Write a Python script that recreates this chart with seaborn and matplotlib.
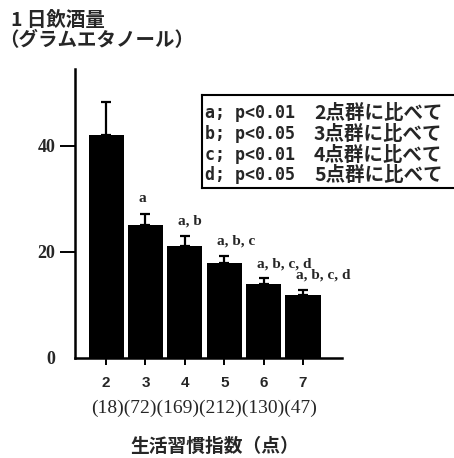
import numpy as np
import matplotlib
matplotlib.use("Agg")
import matplotlib.pyplot as plt
import seaborn as sns
from matplotlib.lines import Line2D

# Daily alcohol intake by lifestyle index score
scores = ["2", "3", "4", "5", "6", "7"]
counts = [18, 72, 169, 212, 130, 47]
intake = [42.0, 25.0, 21.1, 17.9, 13.9, 11.9]
sem = [6.3, 2.2, 2.0, 1.3, 1.1, 1.0]
sig_marks = ["", "a", "a, b", "a, b, c", "a, b, c, d", "a, b, c, d"]
legend_left = ["a; p<0.01", "b; p<0.05", "c; p<0.01", "d; p<0.05"]
legend_right = ["2点群に比べて", "3点群に比べて", "4点群に比べて", "5点群に比べて"]
yticks = [0, 20, 40]

sns.set_theme(style="white")
plt.rcParams["font.family"] = ["Noto Sans CJK JP", "DejaVu Sans"]

W, H = 454, 458
fig = plt.figure(figsize=(W / 100, H / 100), dpi=100)
ax = fig.add_axes([75 / W, 1 - 358 / H, (342 - 75) / W, (358 - 69) / H])


def px(x, y):
    return x / W, 1 - y / H


sns.barplot(x=scores, y=intake, color="black", saturation=1, width=0.89,
            edgecolor="black", linewidth=0, ax=ax, errorbar=None)

xpos = np.arange(len(scores))
ax.errorbar(xpos, intake, yerr=[np.zeros(len(sem)), sem], fmt="none",
            ecolor="black", elinewidth=1.6, capsize=3.5, capthick=1.6, zorder=1)

ax.set_xlim(-0.79, 5.99)
ax.set_ylim(0, 54.5)

for s in ["top", "right"]:
    ax.spines[s].set_visible(False)
for s in ["left", "bottom"]:
    ax.spines[s].set_color("black")
    ax.spines[s].set_linewidth(1.8)

ax.set_yticks(yticks)
ax.set_yticklabels([str(v) for v in yticks],
                   fontfamily=["Liberation Serif"], fontweight="bold", fontsize=13)
ax.tick_params(axis="y", direction="out", length=11, width=1.4, color="black", pad=3,
               left=True)
ax.yaxis.get_major_ticks()[0].tick1line.set_visible(False)

ax.set_xticks(xpos)
ax.set_xticklabels(scores, fontfamily=["Liberation Sans"], fontweight="bold", fontsize=11)
ax.tick_params(axis="x", direction="out", length=5, width=1.4, color="black", pad=8,
               bottom=True)
ax.set_xlabel("")
ax.set_ylabel("")

# significance letters above the error bars
for i, (v, e, m) in enumerate(zip(intake, sem, sig_marks)):
    if m:
        ax.text(i - 0.18, v + e + 2.8, m, ha="left", va="center",
                fontfamily=["Liberation Serif"], fontweight="bold", fontsize=11)

# group sizes under the score labels
count_text = "".join(f"({c})" for c in counts)
fig.text(*px(91, 408), count_text, ha="left", va="center",
         fontfamily=["Liberation Serif"], fontsize=14)

# y-axis title
fig.text(*px(11, 20), "1 日飲酒量", ha="left", va="center", fontweight="bold", fontsize=14)
fig.text(*px(-1, 41), "（グラムエタノール）", ha="left", va="center", fontweight="bold",
         fontsize=14)

# x-axis title
fig.text(*px(215, 446), "生活習慣指数（点）", ha="center", va="center", fontweight="bold",
         fontsize=13.5)

# significance key frame: top, left and bottom edges, running off the right side
x0, y0 = px(202, 95)
_, y1 = px(202, 188)
for xs, ys in [([x0, 1.05], [y0, y0]), ([x0, x0], [y0, y1]), ([x0, 1.05], [y1, y1])]:
    fig.add_artist(Line2D(xs, ys, transform=fig.transFigure, color="black",
                          linewidth=1.5, solid_capstyle="projecting"))
rows_y = [113, 134, 155, 175]
for ry, lt, rt in zip(rows_y, legend_left, legend_right):
    fig.text(*px(205, ry), lt, ha="left", va="center",
             fontfamily=["DejaVu Sans Mono"], fontweight="bold", fontsize=12)
    fig.text(*px(314, ry), rt, ha="left", va="center", fontweight="bold", fontsize=14)

fig.savefig("out.png", dpi=100, facecolor="white")
